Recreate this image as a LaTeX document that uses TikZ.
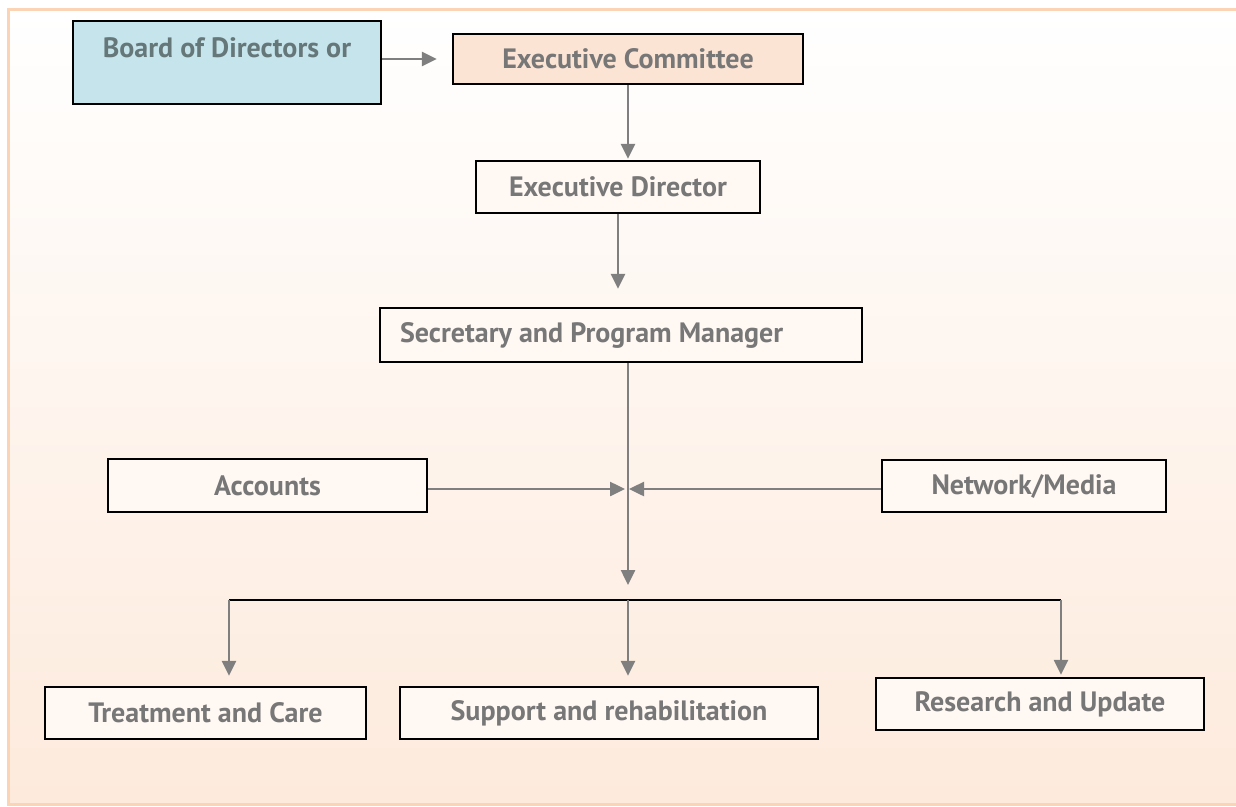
\documentclass[tikz,border=0pt]{standalone}
\usepackage{fontspec}
\setmainfont{PT Sans}
\usetikzlibrary{arrows.meta}
\usetikzlibrary{calc}
\definecolor{txtgray}{HTML}{777777}
\definecolor{bluegray}{HTML}{667779}
\definecolor{arrgray}{HTML}{7F7F7F}
\definecolor{boardfill}{HTML}{C6E4EC}
\definecolor{comfill}{HTML}{FCE4D5}
\definecolor{boxfill}{HTML}{FFF8F3}
\definecolor{bgtop}{HTML}{FFFFFF}
\definecolor{bgbot}{HTML}{FDEADC}
\definecolor{rim}{HTML}{FBD4B6}

\begin{document}
\begin{tikzpicture}[x=1pt, y=-1pt,
    box/.style={draw=black, line width=2.4pt, fill=boxfill, text=txtgray,
      font=\bfseries\fontsize{28}{30}\selectfont, inner sep=0pt},
    arr/.style={draw=arrgray, line width=2.5pt, -{Triangle[length=15pt, width=14pt]}},
    bus/.style={draw=black, line width=2.4pt}]
      \useasboundingbox (0, 0) rectangle (1236, 806);
      \shade[top color=bgtop, bottom color=bgbot] (8, 9) rectangle (1250, 804);
      \draw[rim, line width=3pt] (1250, 9) -- (8, 9) -- (8, 804) -- (1250, 804);

      \node[box, fill=boardfill, text=bluegray, minimum width=308, minimum height=83, align=center] (board) at (227, 62.5) {Board of Directors or\\ ~};
      \node[box, fill=comfill, minimum width=350, minimum height=50] (excom) at (628, 59) {Executive Committee};
      \node[box, minimum width=284, minimum height=52] (exdir) at (618, 187) {Executive Director};
      \node[box, minimum width=482, minimum height=54] (sec) at (621, 335) {\makebox[442pt][l]{Secretary and Program Manager}};
      \node[box, minimum width=319, minimum height=53] (accounts) at (267.5, 485.5) {Accounts};
      \node[box, minimum width=284, minimum height=52] (network) at (1024, 486) {Network/Media};
      \node[box, minimum width=321, minimum height=52] (treat) at (205.5, 713) {Treatment and Care};
      \node[box, minimum width=418, minimum height=52] (support) at (609, 713) {Support and rehabilitation};
      \node[box, minimum width=328, minimum height=52] (research) at (1040, 704) {Research and Update};

      \coordinate (hub) at (628, 489);
      \coordinate (busM) at (628, 600);
      \coordinate (busL) at (229, 600);
      \coordinate (busR) at (1061, 600);

      \draw[arr, shorten >=15pt] (board.east |- excom.west) -- (excom.west);
      \draw[arr, shorten >=1pt] (excom.south) -- (excom.south |- exdir.north);
      \draw[arr, shorten >=18pt] (exdir.south) -- (exdir.south |- sec.north);
      \draw[arr, shorten >=15pt] (sec.south -| hub) -- (busM);
      \draw[arr, shorten >=3pt] (accounts.east |- hub) -- (hub);
      \draw[arr, shorten >=1pt] (network.west |- hub) -- (hub);

      \draw[bus] (busL) -- (busR);
      \draw[arr, shorten >=10pt] (busL) -- (busL |- treat.north);
      \draw[arr, shorten >=10pt] (busM) -- (busM |- support.north);
      \draw[arr, shorten >=2pt] (busR) -- (busR |- research.north);
    \end{tikzpicture}
\end{document}
